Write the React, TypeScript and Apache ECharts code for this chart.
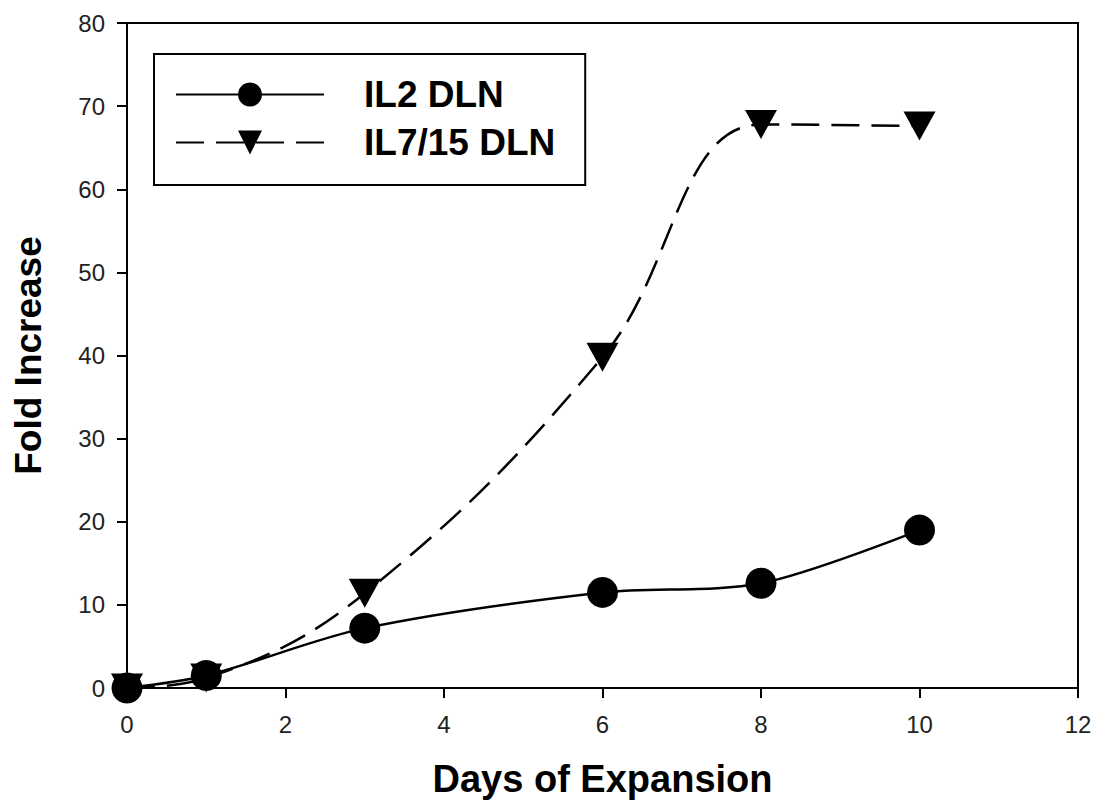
import React, { useEffect, useRef } from "react";
import * as echarts from "echarts";

const days = [0, 1, 3, 6, 8, 10];
const il2 = [0, 1.5, 7.2, 11.5, 12.6, 19];
const il715 = [0, 1.2, 11.4, 39.8, 67.8, 67.6];
const seriesNames = ["IL2 DLN", "IL7/15 DLN"];

export default function App() {
  const ref = useRef<HTMLDivElement>(null);
  useEffect(() => {
    const chart = echarts.init(ref.current!, undefined, { renderer: "svg" });
    const font = "Liberation Sans, Arial, sans-serif";
    const axisLabel = { color: "#222", fontSize: 24, fontFamily: font };
    const nameStyle = { color: "#000", fontSize: 38, fontWeight: "bold" as const, fontFamily: font };
    chart.setOption({
      animation: false,
      backgroundColor: "#fff",
      grid: { left: 127, right: 20, top: 23, bottom: 123, show: true, borderColor: "#000", borderWidth: 2 },
      legend: {
        left: 154,
        top: 54,
        orient: "vertical",
        borderColor: "#000",
        borderWidth: 2,
        padding: [22, 30, 24, 21],
        itemWidth: 148,
        itemHeight: 30,
        itemGap: 11,
        textStyle: { ...nameStyle, fontSize: 37, padding: [0, 0, 0, 35] },
        data: seriesNames,
      },
      xAxis: {
        type: "value",
        min: 0,
        max: 12,
        interval: 2,
        name: "Days of Expansion",
        nameLocation: "middle",
        nameGap: 72,
        nameTextStyle: nameStyle,
        axisLine: { lineStyle: { color: "#000", width: 2 } },
        axisTick: { inside: false, length: 10, lineStyle: { color: "#000", width: 2 } },
        axisLabel: { ...axisLabel, margin: 24 },
        splitLine: { show: false },
      },
      yAxis: {
        type: "value",
        min: 0,
        max: 80,
        interval: 10,
        name: "Fold Increase",
        nameLocation: "middle",
        nameGap: 80,
        nameTextStyle: { ...nameStyle, fontSize: 37 },
        axisLine: { lineStyle: { color: "#000", width: 2 } },
        axisTick: { inside: false, length: 10, lineStyle: { color: "#000", width: 2 } },
        axisLabel: { ...axisLabel, margin: 22 },
        splitLine: { show: false },
      },
      series: [
        {
          name: seriesNames[0],
          type: "line",
          smooth: 0.3,
          data: days.map((d, i) => [d, il2[i]]),
          symbol: "circle",
          symbolSize: 31,
          itemStyle: { color: "#000" },
          lineStyle: { color: "#000", width: 2.5, type: "solid" },
          z: 3,
        },
        {
          name: seriesNames[1],
          type: "line",
          smooth: 0.4,
          data: days.map((d, i) => [d, il715[i]]),
          symbol: "triangle",
          symbolRotate: 180,
          symbolSize: [32, 29],
          itemStyle: { color: "#000" },
          lineStyle: { color: "#000", width: 2.5, type: [28, 12] },
          z: 2,
        },
      ],
    });
    return () => chart.dispose();
  }, []);
  return <div ref={ref} style={{ width: 1098, height: 811, position: "absolute", left: 0, top: 0 }} />;
}
